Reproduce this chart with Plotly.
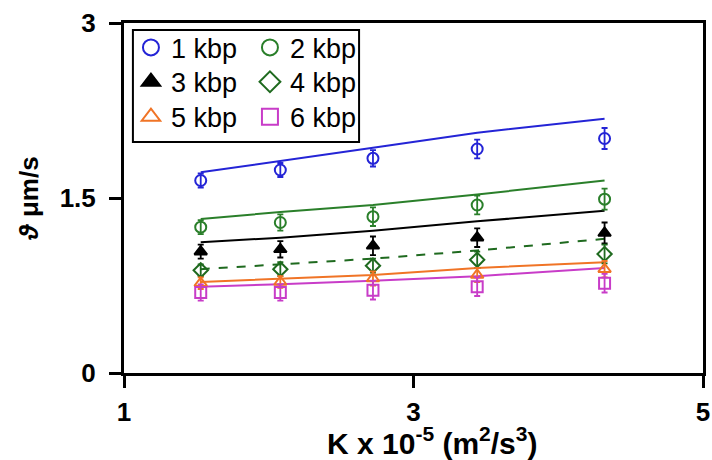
import plotly.graph_objects as go

K = [1.53, 2.08, 2.72, 3.44, 4.32]

labels = ["1 kbp", "2 kbp", "3 kbp", "4 kbp", "5 kbp", "6 kbp"]
meas = {
    "1 kbp": [1.65, 1.74, 1.84, 1.92, 2.01],
    "2 kbp": [1.25, 1.29, 1.34, 1.44, 1.49],
    "3 kbp": [1.04, 1.06, 1.09, 1.16, 1.20],
    "4 kbp": [0.88, 0.89, 0.92, 0.97, 1.02],
    "5 kbp": [0.77, 0.78, 0.81, 0.84, 0.89],
    "6 kbp": [0.69, 0.69, 0.71, 0.74, 0.77],
}
err = {
    "1 kbp": [0.06, 0.06, 0.07, 0.08, 0.09],
    "2 kbp": [0.06, 0.07, 0.08, 0.08, 0.09],
    "3 kbp": [0.06, 0.07, 0.08, 0.08, 0.09],
    "4 kbp": [0.05, 0.06, 0.06, 0.07, 0.08],
    "5 kbp": [0.05, 0.05, 0.06, 0.06, 0.07],
    "6 kbp": [0.07, 0.07, 0.08, 0.08, 0.08],
}
fit = {
    "1 kbp": [1.72, 1.82, 1.93, 2.06, 2.18],
    "2 kbp": [1.32, 1.38, 1.44, 1.53, 1.65],
    "3 kbp": [1.12, 1.16, 1.22, 1.30, 1.39],
    "4 kbp": [0.89, 0.93, 0.98, 1.05, 1.15],
    "5 kbp": [0.78, 0.81, 0.84, 0.90, 0.95],
    "6 kbp": [0.74, 0.76, 0.79, 0.83, 0.90],
}

colors = {
    "1 kbp": "#2424d6",
    "2 kbp": "#2a7f2a",
    "3 kbp": "#000000",
    "4 kbp": "#1f6a1f",
    "5 kbp": "#f07426",
    "6 kbp": "#c83cc8",
}
symbols = {
    "1 kbp": "circle-open",
    "2 kbp": "circle-open",
    "3 kbp": "triangle-up",
    "4 kbp": "diamond-open",
    "5 kbp": "triangle-up-open",
    "6 kbp": "square-open",
}
dashes = {"4 kbp": "dash"}
legend_of = {
    "1 kbp": "legend", "2 kbp": "legend",
    "3 kbp": "legend2", "4 kbp": "legend2",
    "5 kbp": "legend3", "6 kbp": "legend3",
}

x_title = "K x 10<sup>-5</sup> (m<sup>2</sup>/s<sup>3</sup>)"
y_title = "<i>ϑ</i> μm/s"

FONT = "Arial, Liberation Sans, sans-serif"

fig = go.Figure()

for lab in labels:
    c = colors[lab]
    fig.add_trace(go.Scatter(
        x=K, y=fit[lab], mode="lines",
        line=dict(color=c, width=2, dash=dashes.get(lab, "solid")),
        showlegend=False, hoverinfo="skip",
    ))
for lab in labels:
    c = colors[lab]
    fig.add_trace(go.Scatter(
        x=K, y=meas[lab], mode="markers",
        marker=dict(symbol=symbols[lab], size=11, color=c,
                    line=dict(color=c, width=2)),
        error_y=dict(type="data", array=err[lab], color=c, thickness=1.8, width=3),
        showlegend=False,
    ))
# legend entries
for lab in labels:
    c = colors[lab]
    fig.add_trace(go.Scatter(
        x=[None], y=[None], mode="markers", name=lab,
        marker=dict(symbol=symbols[lab], size=16, color=c,
                    line=dict(color=c, width=2)),
        legend=legend_of[lab], showlegend=True,
    ))

leg_common = dict(
    orientation="h", xanchor="left", yanchor="middle",
    bgcolor="rgba(0,0,0,0)", borderwidth=0,
    font=dict(family=FONT, size=27, color="black"),
    entrywidth=74, entrywidthmode="pixels",
    itemclick=False, itemdoubleclick=False,
    tracegroupgap=0,
)
fig.update_layout(
    legend=dict(x=0.012, y=0.929, **leg_common),
    legend2=dict(x=0.012, y=0.831, **leg_common),
    legend3=dict(x=0.012, y=0.731, **leg_common),
)

fig.add_shape(type="rect", xref="paper", yref="paper",
              x0=0.0154, x1=0.406, y0=0.66, y1=0.98,
              line=dict(color="black", width=2), fillcolor="rgba(0,0,0,0)")

fig.update_xaxes(
    range=[1, 5], tickvals=[1, 3, 5], ticktext=["1", "3", "5"],
    showline=True, linecolor="black", linewidth=3, mirror=True,
    ticks="outside", ticklen=12, tickwidth=3, tickcolor="black",
    ticklabelstandoff=2, ticklabeloverflow="allow",
    showgrid=False, zeroline=False,
    tickfont=dict(family=FONT, size=26, color="black", weight="bold"),
)
fig.update_yaxes(
    range=[0, 3], tickvals=[0, 1.5, 3], ticktext=["0", "1.5", "3"],
    showline=True, linecolor="black", linewidth=3, mirror=True,
    ticks="outside", ticklen=12, tickwidth=3, tickcolor="black",
    ticklabelstandoff=8,
    showgrid=False, zeroline=False,
    tickfont=dict(family=FONT, size=26, color="black", weight="bold"),
    title=dict(text=y_title,
               font=dict(family=FONT, size=26, color="black", weight="bold"),
               standoff=14),
)

fig.add_annotation(
    text=x_title, xref="paper", yref="paper", x=0.532, y=-0.193,
    xanchor="center", yanchor="middle", showarrow=False,
    font=dict(family=FONT, size=30, color="black", weight="bold"),
)

fig.update_layout(
    width=712, height=460,
    margin=dict(l=124, r=2, t=23, b=87),
    plot_bgcolor="white", paper_bgcolor="white",
    font=dict(family=FONT, color="black"),
)

fig.write_html("out.html")
